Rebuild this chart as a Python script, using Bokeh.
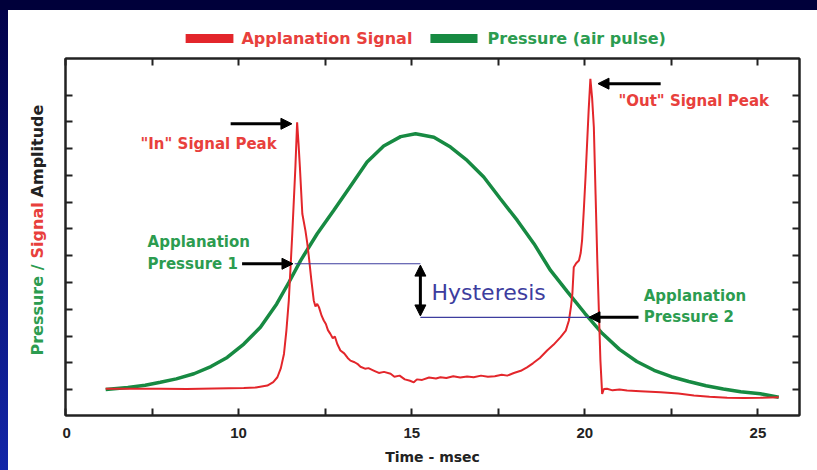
import math
from bokeh.plotting import figure
from bokeh.embed import file_html
from bokeh.resources import INLINE
from bokeh.layouts import column, row
from bokeh.models import (Spacer, Label, Arrow, NormalHead, FixedTicker, LinearAxis, Range1d)

# ---------------- data ----------------
signal_t = [6.16, 7.0, 7.74, 8.5, 9.3, 10.15, 10.5, 10.83, 11.0, 11.12, 11.22, 11.31, 11.38,
            11.45, 11.55, 11.64, 11.69, 11.73, 11.77, 11.84, 11.93, 11.98, 12.03, 12.1, 12.17,
            12.22, 12.27, 12.32, 12.4, 12.46, 12.52, 12.58, 12.65, 12.72, 12.78, 12.85, 12.94,
            13.05, 13.15, 13.23, 13.35, 13.43, 13.52, 13.65, 13.75, 13.9, 14.05, 14.2, 14.39,
            14.5, 14.65, 14.8, 14.95, 15.06, 15.15, 15.3, 15.5, 15.7, 15.83, 16.0, 16.2, 16.4,
            16.6, 16.79, 17.0, 17.2, 17.4, 17.6, 17.76, 17.95, 18.15, 18.33, 18.5, 18.7, 18.91,
            19.1, 19.3, 19.45, 19.54, 19.6, 19.64, 19.68, 19.75, 19.83, 19.88, 19.92, 19.97,
            20.02, 20.11, 20.16, 20.21, 20.26, 20.31, 20.36, 20.45, 20.5, 20.55, 20.64, 20.8,
            21.0, 21.22, 21.6, 22.19, 22.7, 23.15, 23.6, 24.11, 24.6, 25.07, 25.6]
signal_v = [0.03, 0.03, 0.03, 0.02, 0.04, 0.06, 0.08, 0.15, 0.28, 0.46, 0.8, 1.33, 2.2,
            3.33, 5.82, 8.31, 9.99, 9.2, 8.31, 6.57, 5.94, 5.5, 4.95, 4.1, 3.33,
            3.1, 3.2, 3.08, 2.75, 2.58, 2.45, 2.22, 2.08, 1.92, 1.98, 1.7, 1.46,
            1.35, 1.18, 1.08, 1.02, 0.96, 0.85, 0.78, 0.8, 0.71, 0.62, 0.66, 0.59,
            0.48, 0.52, 0.38, 0.33, 0.27, 0.38, 0.36, 0.45, 0.41, 0.46, 0.43, 0.5, 0.45,
            0.49, 0.46, 0.52, 0.48, 0.5, 0.55, 0.52, 0.62, 0.7, 0.83, 0.98, 1.18, 1.46,
            1.68, 1.96, 2.2, 2.58, 3.1, 3.58, 4.57, 4.72, 4.82, 5.1, 5.57, 6.7,
            7.94, 10.43, 11.61, 10.9, 9.81, 7.3, 4.82, 1.08, -0.16, 0.02, 0.03, -0.03,
            0.0, -0.04, -0.06, -0.1, -0.15, -0.22, -0.27, -0.31, -0.32, -0.31, -0.29]

pressure_t = [6.16, 6.8, 7.3, 7.74, 8.2, 8.71, 9.2, 9.67, 10.15, 10.63, 11.1, 11.45, 11.79,
              12.27, 12.75, 13.23, 13.71, 14.19, 14.68, 15.11, 15.64, 16.12, 16.6, 17.08,
              17.56, 18.05, 18.53, 19.01, 19.5, 20.0, 20.5, 21.0, 21.5, 22.0, 22.5, 23.0,
              23.5, 24.0, 24.5, 25.07, 25.6]
pressure_v = [0.0, 0.08, 0.16, 0.27, 0.4, 0.59, 0.86, 1.2, 1.7, 2.33, 3.2, 4.0, 4.82,
              5.82, 6.7, 7.6, 8.5, 9.1, 9.45, 9.56, 9.43, 9.06, 8.56, 7.94,
              7.13, 6.32, 5.45, 4.45, 3.65, 2.85, 2.1, 1.5, 1.05, 0.72, 0.48, 0.3,
              0.14, 0.02, -0.08, -0.16, -0.29]

x_major_ticks = [5, 10, 15, 20, 25]
x_minor_ticks = [7.5, 12.5, 17.5, 22.5]
x_tick_labels = {5: "0"}
y_ticks = [0, 1, 2, 3, 4, 5, 6, 7, 8, 9, 10, 11]

legend_labels = ["Applanation Signal", "Pressure (air pulse)"]
ylabel_parts = ["Pressure /", "Signal", "Amplitude"]

# annotation anchor values
ap1_t, ap1_v = 11.62, 4.70     # applanation pressure 1
ap2_t, ap2_v = 20.12, 2.70     # applanation pressure 2
hyst_t = 15.25
in_peak_t, in_peak_v = 11.69, 9.93
out_peak_t, out_peak_v = 20.16, 11.43

RED = "#e3262b"
GREEN = "#178a42"
RED_TXT = "#e8403c"
GREEN_TXT = "#2c9c50"
BLUE = "#3d3d9e"
DARK = "#222222"
FONT = "DejaVu Sans"

# ---------------- main plot ----------------
p = figure(width=755, height=415, x_range=Range1d(5, 26.2), y_range=Range1d(-0.97, 12.37),
           output_backend="svg", toolbar_location=None, title=None,
           min_border_left=3, min_border_right=18, min_border_top=3, min_border_bottom=55)
p.background_fill_color = "white"
p.border_fill_color = "white"
p.grid.visible = False
p.outline_line_color = DARK
p.outline_line_width = 2


def style_axis(ax, labels=True):
    ax.axis_line_color = DARK
    ax.axis_line_width = 2
    ax.major_tick_in = 7
    ax.major_tick_out = 0
    ax.minor_tick_in = 7
    ax.minor_tick_out = 0
    ax.major_tick_line_width = 2
    ax.minor_tick_line_width = 2
    ax.major_tick_line_color = DARK
    ax.minor_tick_line_color = DARK
    if not labels:
        ax.major_label_text_font_size = "1px"
        ax.major_label_text_color = None
        ax.major_label_standoff = 0


p.xaxis.ticker = FixedTicker(ticks=x_major_ticks, minor_ticks=x_minor_ticks)
p.xaxis.major_label_overrides = x_tick_labels
p.xaxis.axis_label = "Time - msec"
p.xaxis.axis_label_text_font = FONT
p.xaxis.axis_label_text_font_style = "bold"
p.xaxis.axis_label_text_font_size = "14px"
p.xaxis.axis_label_text_color = DARK
p.xaxis.axis_label_standoff = 8
p.xaxis.major_label_text_font = "Liberation Sans"
p.xaxis.major_label_text_font_style = "bold"
p.xaxis.major_label_text_font_size = "15px"
p.xaxis.major_label_text_color = DARK
p.xaxis.major_label_standoff = 12
style_axis(p.xaxis[0])

p.yaxis.ticker = FixedTicker(ticks=y_ticks, minor_ticks=[])
style_axis(p.yaxis[0], labels=False)

top_ax = LinearAxis(ticker=FixedTicker(ticks=x_major_ticks, minor_ticks=x_minor_ticks))
style_axis(top_ax, labels=False)
p.add_layout(top_ax, "above")
right_ax = LinearAxis(ticker=FixedTicker(ticks=y_ticks, minor_ticks=[]))
style_axis(right_ax, labels=False)
p.add_layout(right_ax, "right")

# curves
p.line(pressure_t, pressure_v, line_color=GREEN, line_width=3.5)
p.line(signal_t, signal_v, line_color=RED, line_width=2)

# hysteresis lines
p.line([ap1_t, hyst_t], [ap1_v, ap1_v], line_color=BLUE, line_width=1.2)
p.line([hyst_t, ap2_t], [ap2_v, ap2_v], line_color=BLUE, line_width=1.2)


def arrow(x0, y0, x1, y1, both=False):
    kw = {}
    if both:
        kw["start"] = NormalHead(size=11, fill_color="black", line_color="black")
    p.add_layout(Arrow(end=NormalHead(size=11, fill_color="black", line_color="black"),
                       x_start=x0, y_start=y0, x_end=x1, y_end=y1,
                       line_color="black", line_width=3, **kw))


arrow(9.77, in_peak_v, in_peak_t - 0.15, in_peak_v)
arrow(22.19, out_peak_v, out_peak_t + 0.22, out_peak_v)
arrow(10.1, ap1_v, ap1_t - 0.05, ap1_v)
arrow(21.55, ap2_v, ap2_t, ap2_v)
arrow(hyst_t, ap1_v - 0.05, hyst_t, ap2_v + 0.05, both=True)


def label(fig, x, y, text, color, size="15px", align="left", baseline="middle",
          style="bold", angle=0):
    fig.add_layout(Label(x=x, y=y, text=text, text_color=color, text_font=FONT,
                         text_font_size=size, text_font_style=style, text_align=align,
                         text_baseline=baseline, angle=angle))


label(p, 11.1, 9.19, '"In" Signal Peak', RED_TXT, align="right")
label(p, 20.97, 10.8, '"Out" Signal Peak', RED_TXT)
label(p, 7.37, 5.51, "Applanation", GREEN_TXT)
label(p, 7.37, 4.70, "Pressure 1", GREEN_TXT)
label(p, 21.7, 3.51, "Applanation", GREEN_TXT)
label(p, 21.7, 2.70, "Pressure 2", GREEN_TXT)
label(p, 15.57, 3.64, "Hysteresis", BLUE, size="22px", style="normal")

# ---------------- top strip: legend ----------------
pt = figure(width=809, height=45, x_range=p.x_range, y_range=Range1d(0, 45),
            output_backend="svg", toolbar_location=None, title=None,
            x_axis_location=None, y_axis_location=None,
            min_border_left=57, min_border_right=18, min_border_top=0, min_border_bottom=0)
pt.outline_line_color = None
pt.grid.visible = False
pt.background_fill_color = "white"
pt.border_fill_color = "white"
pt.segment(x0=[8.47, 15.54], y0=[17, 17], x1=[9.85, 16.9], y1=[17, 17],
           line_color=[RED, GREEN], line_width=9, line_cap="butt")
label(pt, 10.08, 17, legend_labels[0], RED_TXT, size="16px")
label(pt, 17.19, 17, legend_labels[1], GREEN_TXT, size="16px")

# ---------------- left strip: multicolour y title (shares the main y scale) ----------------
pl = figure(width=54, height=415, x_range=Range1d(0, 54), y_range=p.y_range,
            output_backend="svg", toolbar_location=None, title=None,
            x_axis_location=None, y_axis_location=None,
            min_border_left=0, min_border_right=0, min_border_top=3, min_border_bottom=55)
pl.outline_line_color = None
pl.grid.visible = False
pl.background_fill_color = "white"
pl.border_fill_color = "white"
label(pl, 29, 1.27, ylabel_parts[0], GREEN_TXT, size="16px", angle=math.pi / 2)
label(pl, 29, 4.90, ylabel_parts[1], RED_TXT, size="16px", angle=math.pi / 2)
label(pl, 29, 7.18, ylabel_parts[2], DARK, size="16px", angle=math.pi / 2)

# ---------------- page frame ----------------
top_bar = Spacer(width=817, height=10, styles={"background-color": "#00003a"})
left_bar = Spacer(width=8, height=460,
                  styles={"background": "linear-gradient(#02024a, #1326a8)"})
inner = column(pt, row(pl, p, spacing=0), spacing=0)
layout = column(top_bar, row(left_bar, inner, spacing=0), spacing=0)

open("out.html", "w").write(file_html(layout, INLINE))
